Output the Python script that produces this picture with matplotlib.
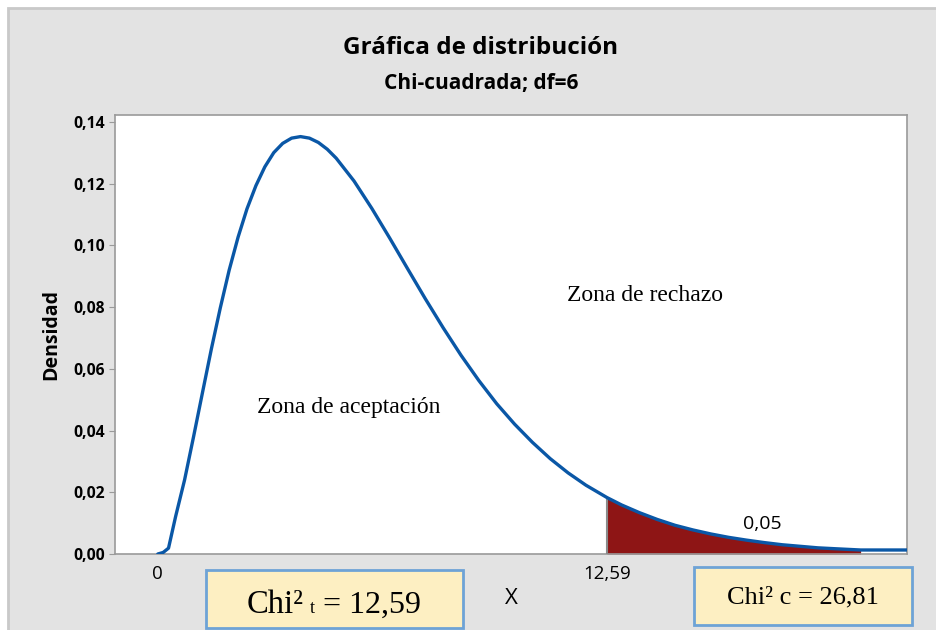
import matplotlib
matplotlib.use('Agg')
import matplotlib.pyplot as plt
from matplotlib.patches import Rectangle

# ── Data ─────────────────────────────────────────────────────────────────────
x_vals = [0.0, 0.15, 0.3, 0.5, 0.75, 1.0, 1.25, 1.5, 1.75, 2.0, 2.25, 2.5,
          2.75, 3.0, 3.25, 3.5, 3.75, 4.0, 4.25, 4.5, 4.75, 5.0, 5.5, 6.0,
          6.5, 7.0, 7.5, 8.0, 8.5, 9.0, 9.5, 10.0, 10.5, 11.0, 11.5, 12.0,
          12.59, 13.0, 13.5, 14.0, 14.5, 15.0, 15.5, 16.0, 16.5, 17.0, 17.5,
          18.0, 18.5, 19.0, 19.7, 20.0, 20.5, 21.0]
dens = [0.0, 0.0005, 0.0019, 0.0122, 0.0240, 0.0379, 0.0522, 0.0664, 0.0797,
        0.0920, 0.1027, 0.1119, 0.1194, 0.1255, 0.1301, 0.1331, 0.1348,
        0.1353, 0.1348, 0.1334, 0.1312, 0.1283, 0.1209, 0.1120, 0.1024,
        0.0925, 0.0827, 0.0733, 0.0644, 0.0562, 0.0487, 0.0421, 0.0362,
        0.0309, 0.0263, 0.0223, 0.0183, 0.0159, 0.0134, 0.0112, 0.0093,
        0.0078, 0.0065, 0.0054, 0.0045, 0.0037, 0.0030, 0.0025, 0.0020,
        0.0017, 0.0013, 0.0013, 0.0013, 0.0013]
x_crit = 12.59
x_fill_end = 19.7
y_ticks = [0.00, 0.02, 0.04, 0.06, 0.08, 0.10, 0.12, 0.14]
y_tick_labels = ['0,00', '0,02', '0,04', '0,06', '0,08', '0,10', '0,12', '0,14']
x_ticks = [0.0, 12.59]
x_tick_labels = ['0', '12,59']

SANS = ['Open Sans', 'DejaVu Sans']
SERIF = ['Liberation Serif', 'DejaVu Serif']
BLUE = '#0a57a6'
RED = '#8e1515'

plt.rcParams['font.family'] = SANS

fig = plt.figure(figsize=(9.36, 6.3), dpi=100, facecolor='white')


def fx(px):
    return px / 936


def fy(py):
    return 1 - py / 630


# grey Minitab frame
fig.patches.append(Rectangle((fx(8), -0.01), 1.0, fy(8) + 0.01,
                             transform=fig.transFigure, facecolor='#e3e3e3',
                             edgecolor='#c9c9c9', lw=2, zorder=-5))

ax = fig.add_axes([fx(115), fy(554), (907 - 115) / 936, (554 - 115) / 630])
ax.set_facecolor('white')

# rejection area
xs_fill = [x for x in x_vals if x_crit <= x <= x_fill_end]
ys_fill = [d for x, d in zip(x_vals, dens) if x_crit <= x <= x_fill_end]
ax.fill_between(xs_fill, 0, ys_fill, color=RED, lw=0, zorder=2)
ax.vlines(x_crit, 0, ys_fill[0], color='#8a8a8a', lw=1.5, zorder=3)

ax.plot(x_vals, dens, color=BLUE, lw=2.4, zorder=4, solid_capstyle='round')

ax.set_xlim(-1.2, 21.0)
ax.set_ylim(0, 0.1423)
ax.set_yticks(y_ticks)
ax.set_yticklabels(y_tick_labels, fontweight='bold', fontsize=11.3)
ax.set_xticks(x_ticks)
ax.set_xticklabels(x_tick_labels, fontsize=13.5)
ax.tick_params(axis='x', length=0, pad=8)
ax.tick_params(axis='y', length=4, color='#9a9a9a', pad=3)
for s in ax.spines.values():
    s.set_color('#9a9a9a')
    s.set_linewidth(1.2)

ax.set_ylabel('Densidad', fontsize=14, fontweight='bold', labelpad=9)

# titles
fig.text(fx(481), fy(48), 'Gráfica de distribución', ha='center',
         va='center', fontsize=17.5, fontweight='bold')
fig.text(fx(481), fy(83), 'Chi-cuadrada; df=6', ha='center',
         va='center', fontsize=15, fontweight='bold')

# annotations inside the plot
ax.text(5.36, 0.0475, 'Zona de aceptación', family=SERIF, fontsize=17,
        ha='center', va='center')
ax.text(13.66, 0.0838, 'Zona de rechazo', family=SERIF, fontsize=17,
        ha='center', va='center')
ax.text(16.94, 0.0097, '0,05', fontsize=14, ha='center', va='center')

fig.text(fx(511), fy(598), 'X', fontsize=16, ha='center', va='center')

# yellow boxes
for (x0, y0, x1, y1) in [(206, 570, 463, 628), (694, 567, 912, 625)]:
    fig.patches.append(Rectangle((fx(x0), fy(y1)), (x1 - x0) / 936,
                                 (y1 - y0) / 630, transform=fig.transFigure,
                                 facecolor='#fdefc2', edgecolor='#6ea3d6',
                                 lw=2, zorder=5))
fig.text(fx(247), fy(613), 'Chi²', family=SERIF, fontsize=23.5,
         ha='left', va='baseline', zorder=6)
fig.text(fx(310), fy(613), 't', family=SERIF, fontsize=13,
         ha='left', va='baseline', zorder=6)
fig.text(fx(323), fy(613), '= 12,59', family=SERIF, fontsize=23,
         ha='left', va='baseline', zorder=6)
fig.text(fx(727), fy(603), 'Chi² c = 26,81', family=SERIF,
         fontsize=19, ha='left', va='baseline', zorder=6)

fig.savefig('out.png', dpi=100, facecolor=fig.get_facecolor())
